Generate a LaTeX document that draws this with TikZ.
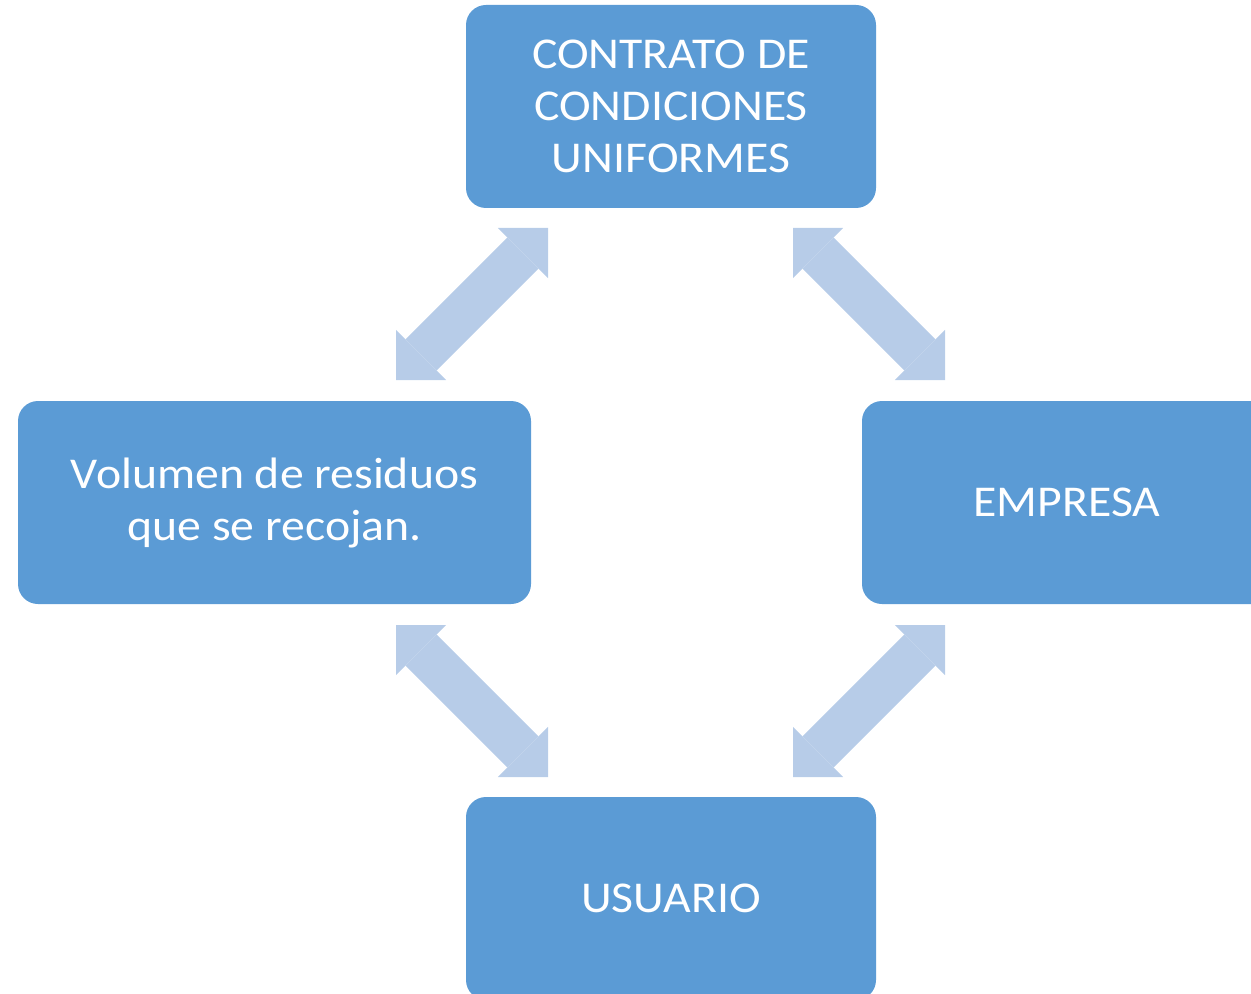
\documentclass[tikz,border=0pt]{standalone}
\usepackage{fontspec}
\setmainfont{Carlito}[FakeStretch=1.085]
\usetikzlibrary{arrows.meta}
\definecolor{boxblue}{RGB}{91,155,213}
\definecolor{arrowblue}{RGB}{183,204,232}
\begin{document}
\begin{tikzpicture}[x=0.5pt,y=-0.5pt,
  box/.style={fill=boxblue, rounded corners=10pt, minimum height=101.5pt, minimum width=205pt,
    text=white, font=\fontsize{22}{26}\selectfont, align=center, inner sep=0pt},
  blockarrow/.style={draw=arrowblue, line width=22pt,
    {Triangle[length=17.7pt,width=35.4pt,line width=0pt]}-{Triangle[length=17.7pt,width=35.4pt,line width=0pt]}}]
\useasboundingbox (0,0) rectangle (1251,994);
\clip (0,0) rectangle (1251,994);
\node[box] (contrato) at (671,106.5) {CONTRATO DE\\CONDICIONES\\UNIFORMES};
\node[box, minimum width=256.5pt] (volumen) at (274.5,502.5) {Volumen de residuos\\que se recojan.};
\node[box] (empresa) at (1067,502.5) {EMPRESA};
\node[box] (usuario) at (671,898.5) {USUARIO};
\coordinate (tl1) at (548,228);
\coordinate (tl2) at (396,380);
\coordinate (tr1) at (793,228);
\coordinate (tr2) at (945,380);
\coordinate (bl1) at (396,625);
\coordinate (bl2) at (548,777);
\coordinate (br1) at (945,625);
\coordinate (br2) at (793,777);
\draw[blockarrow] (tl1) -- (tl2);
\draw[blockarrow] (tr1) -- (tr2);
\draw[blockarrow] (bl1) -- (bl2);
\draw[blockarrow] (br1) -- (br2);
\end{tikzpicture}
\end{document}
